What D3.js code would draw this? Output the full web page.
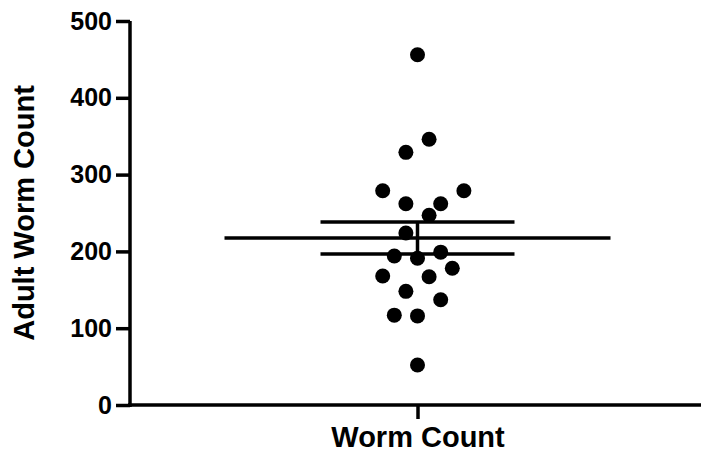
<!DOCTYPE html>
<html>
<head>
<meta charset="utf-8">
<script src="https://cdn.jsdelivr.net/npm/d3@7"></script>
<style>
  body { margin: 0; background: #fff; }
  text { font-family: "Liberation Sans", Arial, sans-serif; font-weight: bold; fill: #000; }
</style>
</head>
<body>
<script>
// data
var groups = ["Worm Count"];
var wormCount = [456, 346, 329, 279, 279, 262, 262, 247, 224, 194, 191, 199, 178, 168, 167, 148, 137, 117, 116, 52];
// lane of each point in the column scatter (0 = centre)
var lane = [0, 1, -1, -3, 4, -1, 2, 1, -1, -2, 0, 2, 3, -3, 1, -1, 2, -2, 0, 0];
var yTicks = [0, 100, 200, 300, 400, 500];
var yLabel = "Adult Worm Count";

var width = 701, height = 453;
var margin = {top: 21, right: 0, bottom: 48, left: 130};

var svg = d3.select("body").append("svg")
  .attr("width", width)
  .attr("height", height);

var x = d3.scalePoint()
  .domain(groups)
  .range([margin.left, width + 4])
  .padding(0.5);

var y = d3.scaleLinear()
  .domain([0, 500])
  .range([height - margin.bottom, margin.top]);

var laneX = d3.scaleLinear().domain([0, 1]).range([0, 11.6]);

// y axis
var yAxis = svg.append("g")
  .attr("transform", "translate(" + margin.left + ",0)")
  .call(d3.axisLeft(y).tickValues(yTicks).tickSize(14).tickPadding(4).tickFormat(d3.format("d")));
yAxis.select(".domain").attr("d", "M0," + (y(0) + 2) + "V" + y(500)).attr("stroke-width", 3.5);
yAxis.selectAll(".tick line").attr("stroke-width", 3.5);
yAxis.selectAll(".tick text").style("font-size", "25px");

// x axis
var xAxis = svg.append("g")
  .attr("transform", "translate(0," + y(0) + ")")
  .call(d3.axisBottom(x).tickSize(14).tickPadding(7).tickSizeOuter(0));
xAxis.select(".domain").attr("d", "M" + (margin.left - 2) + ",0H" + width).attr("stroke-width", 3.5);
xAxis.selectAll(".tick line").attr("stroke-width", 3.5);
xAxis.selectAll(".tick text").style("font-size", "29px");

svg.append("text")
  .attr("transform", "translate(34," + ((y(0) + y(500)) / 2) + ") rotate(-90)")
  .attr("text-anchor", "middle")
  .style("font-size", "29px")
  .text(yLabel);

// points
var cx = x(groups[0]);
svg.append("g").selectAll("circle")
  .data(wormCount)
  .enter().append("circle")
  .attr("cx", function(d, i) { return cx + laneX(lane[i]); })
  .attr("cy", function(d) { return y(d); })
  .attr("r", 7.5)
  .style("fill", "#000");

// mean and SEM
var mean = d3.mean(wormCount);
var sem = d3.deviation(wormCount) / Math.sqrt(wormCount.length);
var g = svg.append("g").attr("stroke", "#000");
g.append("line")
  .attr("x1", cx - 193).attr("x2", cx + 193)
  .attr("y1", y(mean)).attr("y2", y(mean))
  .attr("stroke-width", 3.5);
[mean + sem, mean - sem].forEach(function(v) {
  g.append("line")
    .attr("x1", cx - 97).attr("x2", cx + 97)
    .attr("y1", y(v)).attr("y2", y(v))
    .attr("stroke-width", 3.5);
});
g.append("line")
  .attr("x1", cx).attr("x2", cx)
  .attr("y1", y(mean + sem)).attr("y2", y(mean - sem))
  .attr("stroke-width", 3.5);
</script>
</body>
</html>
